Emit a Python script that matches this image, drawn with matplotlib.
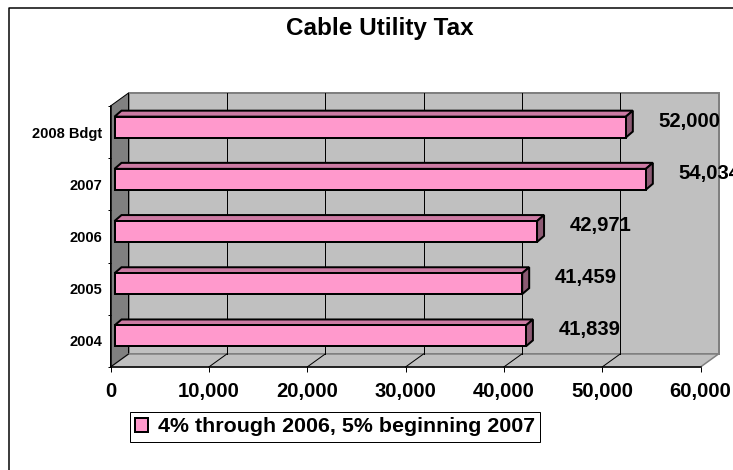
import numpy as np
import matplotlib
matplotlib.use("Agg")
import matplotlib.pyplot as plt
import matplotlib.transforms as mtransforms
from matplotlib.patches import Polygon
from matplotlib.lines import Line2D

# ---- data ----
categories = ["2004", "2005", "2006", "2007", "2008 Bdgt"]
values = [41839, 41459, 42971, 54034, 52000]
value_labels = ["41,839", "41,459", "42,971", "54,034", "52,000"]
x_ticks = [0, 10000, 20000, 30000, 40000, 50000, 60000]
x_tick_labels = ["0", "10,000", "20,000", "30,000", "40,000", "50,000", "60,000"]
title = "Cable Utility Tax"
series_name = "4% through 2006, 5% beginning 2007"

# ---- style ----
W, H, DPI = 733, 470, 100
PINK = "#FF99CC"
PINK_TOP = "#CC7AA3"
PINK_SIDE = "#8C5A73"
WALL = "#C0C0C0"
WALL_DARK = "#808080"
FONT = "Liberation Sans"
DEPTH = np.array([18.0, 13.0])      # wall depth, pixels
BAR_SHIFT = np.array([4.0, 5.0])    # bar front face offset, pixels
BAR_DEPTH = np.array([7.0, 6.0])    # bar thickness, pixels
BAR_H = 0.40
PX = 0.72                            # points per pixel at 100 dpi

fig = plt.figure(figsize=(W / DPI, H / DPI), dpi=DPI)
fig.patch.set_facecolor("white")
ax = fig.add_axes([110.5 / W, 1 - 367 / H, 590 / W, 261 / H])
ax.set_facecolor("none")
xmax = x_ticks[-1]
nc = len(categories)
ax.set_xlim(0, xmax)
ax.set_ylim(0, nc)

ident = mtransforms.IdentityTransform()


def proj(x, y, depth=0.0):
    return ax.transData.transform((x, y)) + depth * DEPTH


def face(pts, fc, ec, lw, z):
    ax.add_patch(Polygon(np.array(pts), closed=True, facecolor=fc, edgecolor=ec,
                         linewidth=lw, transform=ident, clip_on=False, zorder=z,
                         joinstyle="miter"))


# back wall, side wall, floor
face([proj(0, 0, 1), proj(xmax, 0, 1), proj(xmax, nc, 1), proj(0, nc, 1)],
     WALL, WALL_DARK, 2 * PX, 0.5)
face([proj(0, 0, 0), proj(0, nc, 0), proj(0, nc, 1), proj(0, 0, 1)],
     WALL_DARK, "black", 1 * PX, 0.6)
face([proj(0, 0, 0), proj(xmax, 0, 0), proj(xmax, 0, 1), proj(0, 0, 1)],
     WALL, WALL_DARK, 1.5 * PX, 0.6)

# gridlines on the back wall and floor
for xv in x_ticks[1:-1]:
    a, b = proj(xv, 0, 1), proj(xv, nc, 1)
    ax.add_line(Line2D([a[0], b[0]], [a[1], b[1]], color="black", lw=1 * PX,
                       transform=ident, clip_on=False, zorder=0.7))
    c = proj(xv, 0, 0)
    ax.add_line(Line2D([c[0], a[0]], [c[1], a[1]], color="black", lw=1 * PX,
                       transform=ident, clip_on=False, zorder=0.7))
a, c = proj(0, 0, 1), proj(0, 0, 0)
ax.add_line(Line2D([c[0], a[0]], [c[1], a[1]], color="black", lw=1 * PX,
                   transform=ident, clip_on=False, zorder=0.7))

# bars: front faces through barh, top and side faces from the same rects
ypos = np.arange(nc) + 0.5
bar_trans = ax.transData + mtransforms.Affine2D().translate(*BAR_SHIFT)
bars = ax.barh(ypos, values, height=BAR_H, left=0, color=PINK,
               edgecolor="black", linewidth=2 * PX, zorder=3, label=series_name)
for rect in bars:
    rect.set_transform(bar_trans)
    rect.set_clip_on(False)
for yv, v in zip(ypos, values):
    fl = ax.transData.transform((0, yv + BAR_H / 2)) + BAR_SHIFT
    fr = ax.transData.transform((v, yv + BAR_H / 2)) + BAR_SHIFT
    br = ax.transData.transform((v, yv - BAR_H / 2)) + BAR_SHIFT
    face([fl, fr, fr + BAR_DEPTH, fl + BAR_DEPTH], PINK_TOP, "black", 2 * PX, 2.9)
    face([br, fr, fr + BAR_DEPTH, br + BAR_DEPTH], PINK_SIDE, "black", 2 * PX, 2.9)

# value labels
for yv, v, lab in zip(ypos, values, value_labels):
    ax.annotate(lab, xy=(v, yv), xytext=(BAR_SHIFT[0] + 33, BAR_SHIFT[1] + 6),
                textcoords="offset pixels", ha="left", va="center",
                fontsize=14.6, fontweight="bold", family=FONT, zorder=5,
                annotation_clip=False)

# axes
for s in ["top", "right"]:
    ax.spines[s].set_visible(False)
for s in ["left", "bottom"]:
    ax.spines[s].set_color("black")
    ax.spines[s].set_linewidth(1.5 * PX)
    ax.spines[s].set_zorder(4)
ax.set_xticks(x_ticks)
ax.set_xticklabels(x_tick_labels, fontsize=14.6, fontweight="bold", family=FONT)
ax.tick_params(axis="x", direction="out", length=5 * PX, width=1 * PX, pad=10 * PX)
ax.set_yticks(range(nc + 1))
ax.set_yticklabels([])
ax.tick_params(axis="y", which="major", direction="out", length=3 * PX, width=1 * PX)
ax.set_yticks(ypos, minor=True)
ax.set_yticklabels(categories, minor=True, fontsize=10.5, fontweight="bold",
                   family=FONT)
ax.tick_params(axis="y", which="minor", length=0, pad=8 * PX)

# legend
leg = ax.legend([bars], [series_name], loc="upper left",
                bbox_to_anchor=(130 / W, 1 - 412 / H), bbox_transform=fig.transFigure,
                frameon=True, fancybox=False, framealpha=1, edgecolor="black",
                borderaxespad=0, borderpad=0.25, handlelength=0.6, handleheight=0.6,
                handletextpad=0.45,
                prop={"family": FONT, "weight": "bold", "size": 15.4})
leg.get_frame().set_linewidth(1 * PX)

# title
fig.text(379.5 / W, 1 - 28 / H, title, ha="center", va="center",
         fontsize=17.5, fontweight="bold", family=FONT)

# outer chart frame (top and left edges)
fig.add_artist(Line2D([9 / W, 9 / W, 1.0], [0.0, 1 - 7.5 / H, 1 - 7.5 / H],
                      transform=fig.transFigure, color="black", lw=1.5 * PX))

fig.savefig("out.png", dpi=DPI)
